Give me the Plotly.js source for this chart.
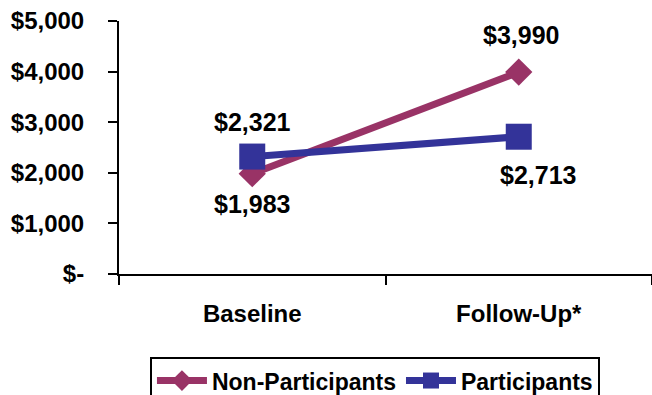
<!DOCTYPE html>
<html>
<head>
<meta charset="utf-8">
<script src="https://cdn.plot.ly/plotly-3.0.1.min.js"></script>
<style>html,body{margin:0;padding:0;background:#fff;}#chart{width:652px;height:395px;}</style>
</head>
<body>
<div id="chart"></div>
<script>
var categories = ["Baseline", "Follow-Up*"];
var nonParticipants = [1983, 3990];
var participants = [2321, 2713];
var seriesNames = ["Non-Participants", "Participants"];
var yTickVals = [0, 1000, 2000, 3000, 4000, 5000];
var yTickText = ["$-", "$1,000", "$2,000", "$3,000", "$4,000", "$5,000"];

function money(v) { return "$" + v.toLocaleString("en-US"); }

var FONT = "Liberation Sans, Arial, sans-serif";
var pink = "#993366", blue = "#333399";

var traces = [
  {
    x: categories, y: nonParticipants, name: seriesNames[0], type: "scatter", mode: "lines+markers",
    line: {color: pink, width: 7},
    marker: {symbol: "diamond", size: 21, color: pink}
  },
  {
    x: categories, y: participants, name: seriesNames[1], type: "scatter", mode: "lines+markers",
    line: {color: blue, width: 7},
    marker: {symbol: "square", size: 26, color: blue}
  }
];

var npShift = [{x: 0, y: -30}, {x: 2, y: 37}];
var pShift = [{x: 0, y: 35}, {x: 19, y: -38}];
var annotations = [];
categories.forEach(function (c, i) {
  annotations.push({x: c, y: nonParticipants[i], xref: "x", yref: "y", text: money(nonParticipants[i]),
    showarrow: false, xshift: npShift[i].x, yshift: npShift[i].y,
    font: {family: FONT, size: 25, color: "#000", weight: "bold"}});
  annotations.push({x: c, y: participants[i], xref: "x", yref: "y", text: money(participants[i]),
    showarrow: false, xshift: pShift[i].x, yshift: pShift[i].y,
    font: {family: FONT, size: 25, color: "#000", weight: "bold"}});
});

var layout = {
  width: 652, height: 395,
  margin: {l: 119, r: 0, t: 21, b: 121, pad: 0, autoexpand: false},
  paper_bgcolor: "#fff", plot_bgcolor: "#fff",
  font: {family: FONT, size: 24, color: "#000", weight: "bold"},
  showlegend: true,
  xaxis: {
    type: "category", range: [-0.5, 1.5], tickson: "boundaries",
    showline: true, linecolor: "#000", linewidth: 2,
    ticks: "outside", ticklen: 9, tickwidth: 2, tickcolor: "#000",
    showgrid: false, zeroline: false, ticklabelstandoff: 17,
    tickfont: {family: FONT, size: 24, color: "#000", weight: "bold"}
  },
  yaxis: {
    range: [0, 5000], tickvals: yTickVals, ticktext: yTickText,
    showline: true, linecolor: "#000", linewidth: 2,
    ticks: "outside", ticklen: 9, tickwidth: 2, tickcolor: "#000",
    showgrid: false, zeroline: false, ticklabelstandoff: 19,
    tickfont: {family: FONT, size: 24, color: "#000", weight: "bold"}
  },
  legend: {
    orientation: "h", xref: "container", yref: "container",
    x: 0.23, xanchor: "left", y: 0.096, yanchor: "top",
    bordercolor: "#000", borderwidth: 2, bgcolor: "#fff",
    font: {family: FONT, size: 23, color: "#000", weight: "bold"},
    itemwidth: 50, tracegroupgap: 0
  },
  annotations: annotations
};

Plotly.newPlot("chart", traces, layout, {displayModeBar: false, staticPlot: true});
</script>
</body>
</html>
